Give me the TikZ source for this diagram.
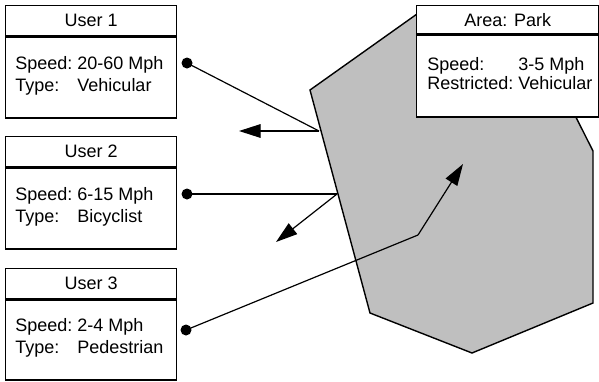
\documentclass[tikz,border=0pt]{standalone}
\usepackage{fontspec}
\setmainfont{Liberation Sans}
\usetikzlibrary{arrows.meta}
\begin{document}
\begin{tikzpicture}[x=0.5pt,y=-0.5pt,
  lbl/.style={font=\fontsize{9}{11}\selectfont},
  head/.style={draw, line width=0.7pt, fill=white, inner sep=0pt, anchor=north west,
    minimum width=85.5pt, minimum height=15pt, lbl},
  body/.style={draw, line width=0.7pt, fill=white, inner sep=0pt, anchor=north west,
    minimum width=85.5pt, minimum height=40.5pt},
  info/.style={anchor=west, inner sep=0pt, lbl},
  dotn/.style={circle, fill=black, inner sep=0pt, minimum size=5.5pt},
  link/.style={line width=0.6pt},
  arr/.style={line width=0.6pt, -{Triangle[length=10.8pt,width=6.8pt]}},
  zone/.style={draw, line width=0.7pt, fill=black!25, line join=miter}]
\useasboundingbox (0,0) rectangle (599,381);

% park region
\draw[zone] (310,90) -- (417,14) -- (537,40) -- (593,151) -- (593,303)
  -- (472,353) -- (370,313) -- cycle;

% area box
\node[head, minimum width=91pt, minimum height=14pt] (ah) at (416,5) {Area: Park};
\node[body, minimum width=91pt, minimum height=41pt] (ab) at (ah.south west) {};
\node[info, font=\fontsize{9}{9}\selectfont] (at) at (427,76)
  {\begin{tabular}{@{}l@{\ }l@{}}Speed: & 3-5 Mph\\ Restricted: & Vehicular\end{tabular}};

% user boxes
\node[head] (u1h) at (5,5) {User 1};
\node[body] (u1b) at (u1h.south west) {};
\node[info] (u1t) at (15,76)
  {\begin{tabular}{@{}l@{\ }l@{}}Speed: & 20-60 Mph\\ Type: & Vehicular\end{tabular}};

\node[head] (u2h) at (5,136) {User 2};
\node[body] (u2b) at (u2h.south west) {};
\node[info] (u2t) at (15,207.5)
  {\begin{tabular}{@{}l@{\ }l@{}}Speed: & 6-15 Mph\\ Type: & Bicyclist\end{tabular}};

\node[head, minimum height=15pt] (u3h) at (5,268) {User 3};
\node[body, minimum height=40pt] (u3b) at (u3h.south west) {};
\node[info] (u3t) at (15,338.5)
  {\begin{tabular}{@{}l@{\ }l@{}}Speed: & 2-4 Mph\\ Type: & Pedestrian\end{tabular}};

% paths of the users
\node[dotn] (d1) at (187,63) {};
\node[dotn] (d2) at (187,194) {};
\node[dotn] (d3) at (186,330) {};
\coordinate (e1) at (319,131);
\coordinate (e2) at (337,194);
\coordinate (e3) at (418,235);
\coordinate (t1) at (239,131);
\coordinate (t2) at (276,242);
\coordinate (t3) at (463,164);

\draw[link] (d1.center) -- (e1);
\draw[arr] (e1) -- (t1);
\draw[link] (d2.center) -- (e2);
\draw[arr] (e2) -- (t2);
\draw[link] (d3.center) -- (e3);
\draw[arr] (e3) -- (t3);
\end{tikzpicture}
\end{document}
